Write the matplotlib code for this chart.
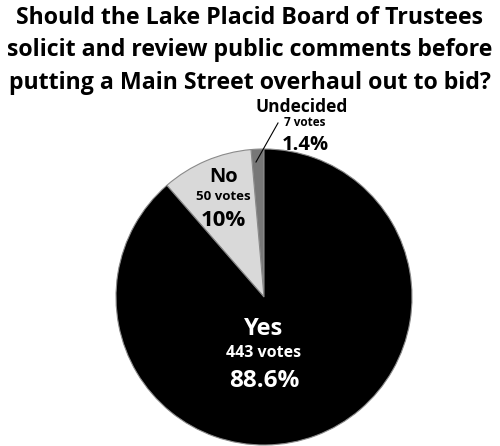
import matplotlib
matplotlib.use("Agg")
import matplotlib.pyplot as plt

# Poll results
labels = ["Undecided", "No", "Yes"]
votes = [7, 50, 443]
percents = ["1.4%", "10%", "88.6%"]
colors = ["#777777", "#d9d9d9", "#000000"]

title_lines = ["Should the Lake Placid Board of Trustees",
               "solicit and review public comments before",
               "putting a Main Street overhaul out to bid?"]

W, H = 500, 446
fig = plt.figure(figsize=(W / 100, H / 100), dpi=100)
ax = fig.add_axes([0, 0, 1, 1])

cx, cy, r = 264, H - 297, 148
ax.pie(votes, colors=colors, startangle=90, counterclock=True,
       center=(cx, cy), radius=r, frame=True,
       wedgeprops=dict(edgecolor="#8a8a8a", linewidth=0.8))
ax.set_xlim(0, W)
ax.set_ylim(0, H)
ax.set_aspect("equal")
ax.axis("off")

font = "Open Sans"

def txt(x, y, s, size, color="black"):
    ax.text(x, H - y, s, fontsize=size, fontweight="bold", family=font,
            color=color, ha="center", va="center")

# Three-line title, one text per line
for i, line in enumerate(title_lines):
    txt(250, 18 + 32.5 * i, line, 16.7)

# Undecided
txt(302, 107, labels[0], 12.5)
txt(305, 123, f"{votes[0]} votes", 8.5)
txt(305, 145, percents[0], 14.5)
ax.plot([278, 256], [H - 123, H - 162], color="black", lw=0.8)

# No
txt(224, 177, labels[1], 14.5)
txt(223, 197, f"{votes[1]} votes", 9.5)
txt(223, 220, percents[1], 16)

# Yes
txt(264, 329, labels[2], 17, "white")
txt(264, 353, f"{votes[2]} votes", 11.5, "white")
txt(264, 381, percents[2], 17.5, "white")

fig.savefig("out.png", dpi=100)
